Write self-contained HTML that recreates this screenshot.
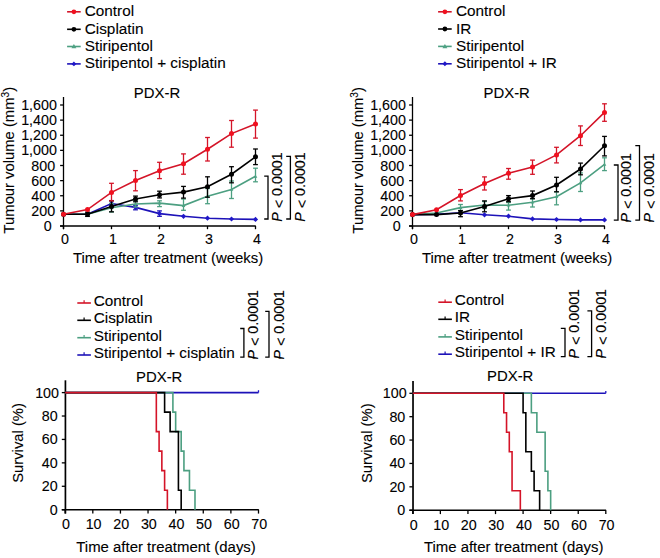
<!DOCTYPE html>
<html><head><meta charset="utf-8"><style>
html,body{margin:0;padding:0;background:#fff;}
body{width:660px;height:558px;overflow:hidden;}
svg{display:block;}
text{font-family:"Liberation Sans",sans-serif;stroke:#000;stroke-width:0.1px;}
</style></head><body>
<svg width="660" height="558" viewBox="0 0 660 558">
<rect width="660" height="558" fill="#ffffff"/>
<g font-family="Liberation Sans, sans-serif" fill="#000">
<line x1="67.10" y1="11.80" x2="80.70" y2="11.80" stroke="#d41428" stroke-width="1.6" />
<circle cx="73.90" cy="11.80" r="2.38" fill="#f0101f"/>
<text transform="translate(84.70,16.30) scale(1,1.001)" font-size="15.35" text-anchor="start" >Control</text>
<line x1="67.10" y1="29.30" x2="80.70" y2="29.30" stroke="#000000" stroke-width="1.6" />
<circle cx="73.90" cy="29.30" r="2.38" fill="#000000"/>
<text transform="translate(84.70,33.80) scale(1,1.001)" font-size="15.35" text-anchor="start" >Cisplatin</text>
<line x1="67.10" y1="46.50" x2="80.70" y2="46.50" stroke="#4c9f81" stroke-width="1.6" />
<path d="M73.90,44.03 L76.37,48.35 L71.43,48.35 Z" fill="#4fa284"/>
<text transform="translate(84.70,51.00) scale(1,1.001)" font-size="15.35" text-anchor="start" >Stiripentol</text>
<line x1="67.10" y1="63.90" x2="80.70" y2="63.90" stroke="#1d12b8" stroke-width="1.6" />
<path d="M73.90,61.43 L76.37,63.90 L73.90,66.37 L71.43,63.90 Z" fill="#2018c8"/>
<text transform="translate(84.70,68.40) scale(1,1.001)" font-size="15.35" text-anchor="start" >Stiripentol + cisplatin</text>
<line x1="438.10" y1="11.80" x2="451.70" y2="11.80" stroke="#d41428" stroke-width="1.6" />
<circle cx="444.90" cy="11.80" r="2.38" fill="#f0101f"/>
<text transform="translate(455.90,16.30) scale(1,1.001)" font-size="15.35" text-anchor="start" >Control</text>
<line x1="438.10" y1="29.00" x2="451.70" y2="29.00" stroke="#000000" stroke-width="1.6" />
<circle cx="444.90" cy="29.00" r="2.38" fill="#000000"/>
<text transform="translate(455.90,33.50) scale(1,1.001)" font-size="15.35" text-anchor="start" >IR</text>
<line x1="438.10" y1="46.40" x2="451.70" y2="46.40" stroke="#4c9f81" stroke-width="1.6" />
<path d="M444.90,43.93 L447.37,48.25 L442.43,48.25 Z" fill="#4fa284"/>
<text transform="translate(455.90,50.90) scale(1,1.001)" font-size="15.35" text-anchor="start" >Stiripentol</text>
<line x1="438.10" y1="63.80" x2="451.70" y2="63.80" stroke="#1d12b8" stroke-width="1.6" />
<path d="M444.90,61.33 L447.37,63.80 L444.90,66.27 L442.43,63.80 Z" fill="#2018c8"/>
<text transform="translate(455.90,68.30) scale(1,1.001)" font-size="15.35" text-anchor="start" >Stiripentol + IR</text>
<line x1="63.50" y1="97.00" x2="63.50" y2="229.20" stroke="#000000" stroke-width="1.3" />
<line x1="60.10" y1="226.00" x2="255.80" y2="226.00" stroke="#000000" stroke-width="1.7" />
<line x1="60.10" y1="226.00" x2="63.50" y2="226.00" stroke="#000000" stroke-width="1.3" />
<text transform="translate(51.70,231.00) scale(1,1.001)" font-size="14.3" text-anchor="end" >0</text>
<line x1="60.10" y1="210.88" x2="63.50" y2="210.88" stroke="#000000" stroke-width="1.3" />
<text transform="translate(55.10,215.88) scale(1,1.001)" font-size="14.3" text-anchor="end" >200</text>
<line x1="60.10" y1="195.75" x2="63.50" y2="195.75" stroke="#000000" stroke-width="1.3" />
<text transform="translate(55.10,200.75) scale(1,1.001)" font-size="14.3" text-anchor="end" >400</text>
<line x1="60.10" y1="180.62" x2="63.50" y2="180.62" stroke="#000000" stroke-width="1.3" />
<text transform="translate(55.10,185.62) scale(1,1.001)" font-size="14.3" text-anchor="end" >600</text>
<line x1="60.10" y1="165.50" x2="63.50" y2="165.50" stroke="#000000" stroke-width="1.3" />
<text transform="translate(55.10,170.50) scale(1,1.001)" font-size="14.3" text-anchor="end" >800</text>
<line x1="60.10" y1="150.38" x2="63.50" y2="150.38" stroke="#000000" stroke-width="1.3" />
<text transform="translate(56.90,155.38) scale(1,1.001)" font-size="14.3" text-anchor="end" >1,000</text>
<line x1="60.10" y1="135.25" x2="63.50" y2="135.25" stroke="#000000" stroke-width="1.3" />
<text transform="translate(56.90,140.25) scale(1,1.001)" font-size="14.3" text-anchor="end" >1,200</text>
<line x1="60.10" y1="120.12" x2="63.50" y2="120.12" stroke="#000000" stroke-width="1.3" />
<text transform="translate(56.90,125.12) scale(1,1.001)" font-size="14.3" text-anchor="end" >1,400</text>
<line x1="60.10" y1="105.00" x2="63.50" y2="105.00" stroke="#000000" stroke-width="1.3" />
<text transform="translate(56.90,110.00) scale(1,1.001)" font-size="14.3" text-anchor="end" >1,600</text>
<line x1="63.50" y1="226.00" x2="63.50" y2="229.20" stroke="#000000" stroke-width="1.3" />
<text transform="translate(64.90,244.30) scale(1,1.001)" font-size="14.3" text-anchor="middle" >0</text>
<line x1="111.50" y1="226.00" x2="111.50" y2="229.20" stroke="#000000" stroke-width="1.3" />
<text transform="translate(112.90,244.30) scale(1,1.001)" font-size="14.3" text-anchor="middle" >1</text>
<line x1="159.50" y1="226.00" x2="159.50" y2="229.20" stroke="#000000" stroke-width="1.3" />
<text transform="translate(160.90,244.30) scale(1,1.001)" font-size="14.3" text-anchor="middle" >2</text>
<line x1="207.50" y1="226.00" x2="207.50" y2="229.20" stroke="#000000" stroke-width="1.3" />
<text transform="translate(208.90,244.30) scale(1,1.001)" font-size="14.3" text-anchor="middle" >3</text>
<line x1="255.50" y1="226.00" x2="255.50" y2="229.20" stroke="#000000" stroke-width="1.3" />
<text transform="translate(256.90,244.30) scale(1,1.001)" font-size="14.3" text-anchor="middle" >4</text>
<text transform="translate(72.90,262.60) scale(1,1.001)" font-size="14.95" text-anchor="start" >Time after treatment (weeks)</text>
<text transform="translate(14.00,233.40) rotate(-90) translate(0,0.0) scale(1,1.001)" font-size="14.8">Tumour volume (mm<tspan font-size="10.2" dy="-4.9">3</tspan><tspan dy="4.9">)</tspan></text>
<text transform="translate(157.00,97.90) scale(1,1.001)" font-size="14.9" text-anchor="middle" >PDX-R</text>
<polyline points="63.50,214.30 87.50,214.30 111.50,203.50 135.50,207.40 159.50,213.60 183.50,216.30 207.50,218.20 231.50,219.00 255.50,219.40" fill="none" stroke="#1d12b8" stroke-width="1.6" stroke-linejoin="miter" />
<line x1="111.50" y1="200.60" x2="111.50" y2="206.50" stroke="#1d12b8" stroke-width="1.3" />
<line x1="109.10" y1="200.60" x2="113.90" y2="200.60" stroke="#1d12b8" stroke-width="1.3" />
<line x1="109.10" y1="206.50" x2="113.90" y2="206.50" stroke="#1d12b8" stroke-width="1.3" />
<line x1="135.50" y1="205.30" x2="135.50" y2="209.80" stroke="#1d12b8" stroke-width="1.3" />
<line x1="133.10" y1="205.30" x2="137.90" y2="205.30" stroke="#1d12b8" stroke-width="1.3" />
<line x1="133.10" y1="209.80" x2="137.90" y2="209.80" stroke="#1d12b8" stroke-width="1.3" />
<line x1="159.50" y1="210.90" x2="159.50" y2="216.30" stroke="#1d12b8" stroke-width="1.3" />
<line x1="157.10" y1="210.90" x2="161.90" y2="210.90" stroke="#1d12b8" stroke-width="1.3" />
<line x1="157.10" y1="216.30" x2="161.90" y2="216.30" stroke="#1d12b8" stroke-width="1.3" />
<path d="M63.50,211.70 L66.10,214.30 L63.50,216.90 L60.90,214.30 Z" fill="#2018c8"/>
<path d="M87.50,211.70 L90.10,214.30 L87.50,216.90 L84.90,214.30 Z" fill="#2018c8"/>
<path d="M111.50,200.90 L114.10,203.50 L111.50,206.10 L108.90,203.50 Z" fill="#2018c8"/>
<path d="M135.50,204.80 L138.10,207.40 L135.50,210.00 L132.90,207.40 Z" fill="#2018c8"/>
<path d="M159.50,211.00 L162.10,213.60 L159.50,216.20 L156.90,213.60 Z" fill="#2018c8"/>
<path d="M183.50,213.70 L186.10,216.30 L183.50,218.90 L180.90,216.30 Z" fill="#2018c8"/>
<path d="M207.50,215.60 L210.10,218.20 L207.50,220.80 L204.90,218.20 Z" fill="#2018c8"/>
<path d="M231.50,216.40 L234.10,219.00 L231.50,221.60 L228.90,219.00 Z" fill="#2018c8"/>
<path d="M255.50,216.80 L258.10,219.40 L255.50,222.00 L252.90,219.40 Z" fill="#2018c8"/>
<polyline points="63.50,214.30 87.50,214.30 111.50,207.70 135.50,204.00 159.50,203.10 183.50,205.60 207.50,196.20 231.50,189.40 255.50,176.30" fill="none" stroke="#4c9f81" stroke-width="1.6" stroke-linejoin="miter" />
<line x1="111.50" y1="203.50" x2="111.50" y2="212.00" stroke="#4c9f81" stroke-width="1.3" />
<line x1="109.10" y1="203.50" x2="113.90" y2="203.50" stroke="#4c9f81" stroke-width="1.3" />
<line x1="109.10" y1="212.00" x2="113.90" y2="212.00" stroke="#4c9f81" stroke-width="1.3" />
<line x1="135.50" y1="201.00" x2="135.50" y2="207.00" stroke="#4c9f81" stroke-width="1.3" />
<line x1="133.10" y1="201.00" x2="137.90" y2="201.00" stroke="#4c9f81" stroke-width="1.3" />
<line x1="133.10" y1="207.00" x2="137.90" y2="207.00" stroke="#4c9f81" stroke-width="1.3" />
<line x1="159.50" y1="200.80" x2="159.50" y2="206.60" stroke="#4c9f81" stroke-width="1.3" />
<line x1="157.10" y1="200.80" x2="161.90" y2="200.80" stroke="#4c9f81" stroke-width="1.3" />
<line x1="157.10" y1="206.60" x2="161.90" y2="206.60" stroke="#4c9f81" stroke-width="1.3" />
<line x1="183.50" y1="199.00" x2="183.50" y2="210.30" stroke="#4c9f81" stroke-width="1.3" />
<line x1="181.10" y1="199.00" x2="185.90" y2="199.00" stroke="#4c9f81" stroke-width="1.3" />
<line x1="181.10" y1="210.30" x2="185.90" y2="210.30" stroke="#4c9f81" stroke-width="1.3" />
<line x1="207.50" y1="188.50" x2="207.50" y2="203.70" stroke="#4c9f81" stroke-width="1.3" />
<line x1="205.10" y1="188.50" x2="209.90" y2="188.50" stroke="#4c9f81" stroke-width="1.3" />
<line x1="205.10" y1="203.70" x2="209.90" y2="203.70" stroke="#4c9f81" stroke-width="1.3" />
<line x1="231.50" y1="181.00" x2="231.50" y2="198.50" stroke="#4c9f81" stroke-width="1.3" />
<line x1="229.10" y1="181.00" x2="233.90" y2="181.00" stroke="#4c9f81" stroke-width="1.3" />
<line x1="229.10" y1="198.50" x2="233.90" y2="198.50" stroke="#4c9f81" stroke-width="1.3" />
<line x1="255.50" y1="168.20" x2="255.50" y2="181.80" stroke="#4c9f81" stroke-width="1.3" />
<line x1="253.10" y1="168.20" x2="257.90" y2="168.20" stroke="#4c9f81" stroke-width="1.3" />
<line x1="253.10" y1="181.80" x2="257.90" y2="181.80" stroke="#4c9f81" stroke-width="1.3" />
<path d="M63.50,212.48 L65.32,215.67 L61.68,215.67 Z" fill="#4fa284"/>
<path d="M87.50,212.48 L89.32,215.67 L85.68,215.67 Z" fill="#4fa284"/>
<path d="M111.50,205.88 L113.32,209.06 L109.68,209.06 Z" fill="#4fa284"/>
<path d="M135.50,202.18 L137.32,205.37 L133.68,205.37 Z" fill="#4fa284"/>
<path d="M159.50,201.28 L161.32,204.47 L157.68,204.47 Z" fill="#4fa284"/>
<path d="M183.50,203.78 L185.32,206.97 L181.68,206.97 Z" fill="#4fa284"/>
<path d="M207.50,194.38 L209.32,197.56 L205.68,197.56 Z" fill="#4fa284"/>
<path d="M231.50,187.58 L233.32,190.77 L229.68,190.77 Z" fill="#4fa284"/>
<path d="M255.50,174.48 L257.32,177.67 L253.68,177.67 Z" fill="#4fa284"/>
<polyline points="63.50,214.30 87.50,214.30 111.50,206.40 135.50,199.00 159.50,194.70 183.50,192.10 207.50,186.80 231.50,174.20 255.50,156.80" fill="none" stroke="#000000" stroke-width="1.6" stroke-linejoin="miter" />
<line x1="87.50" y1="212.20" x2="87.50" y2="216.40" stroke="#000000" stroke-width="1.3" />
<line x1="85.10" y1="212.20" x2="89.90" y2="212.20" stroke="#000000" stroke-width="1.3" />
<line x1="85.10" y1="216.40" x2="89.90" y2="216.40" stroke="#000000" stroke-width="1.3" />
<line x1="111.50" y1="200.80" x2="111.50" y2="211.80" stroke="#000000" stroke-width="1.3" />
<line x1="109.10" y1="200.80" x2="113.90" y2="200.80" stroke="#000000" stroke-width="1.3" />
<line x1="109.10" y1="211.80" x2="113.90" y2="211.80" stroke="#000000" stroke-width="1.3" />
<line x1="135.50" y1="196.10" x2="135.50" y2="201.80" stroke="#000000" stroke-width="1.3" />
<line x1="133.10" y1="196.10" x2="137.90" y2="196.10" stroke="#000000" stroke-width="1.3" />
<line x1="133.10" y1="201.80" x2="137.90" y2="201.80" stroke="#000000" stroke-width="1.3" />
<line x1="159.50" y1="191.20" x2="159.50" y2="197.90" stroke="#000000" stroke-width="1.3" />
<line x1="157.10" y1="191.20" x2="161.90" y2="191.20" stroke="#000000" stroke-width="1.3" />
<line x1="157.10" y1="197.90" x2="161.90" y2="197.90" stroke="#000000" stroke-width="1.3" />
<line x1="183.50" y1="186.40" x2="183.50" y2="198.10" stroke="#000000" stroke-width="1.3" />
<line x1="181.10" y1="186.40" x2="185.90" y2="186.40" stroke="#000000" stroke-width="1.3" />
<line x1="181.10" y1="198.10" x2="185.90" y2="198.10" stroke="#000000" stroke-width="1.3" />
<line x1="207.50" y1="176.80" x2="207.50" y2="197.20" stroke="#000000" stroke-width="1.3" />
<line x1="205.10" y1="176.80" x2="209.90" y2="176.80" stroke="#000000" stroke-width="1.3" />
<line x1="205.10" y1="197.20" x2="209.90" y2="197.20" stroke="#000000" stroke-width="1.3" />
<line x1="231.50" y1="166.70" x2="231.50" y2="182.80" stroke="#000000" stroke-width="1.3" />
<line x1="229.10" y1="166.70" x2="233.90" y2="166.70" stroke="#000000" stroke-width="1.3" />
<line x1="229.10" y1="182.80" x2="233.90" y2="182.80" stroke="#000000" stroke-width="1.3" />
<line x1="255.50" y1="149.00" x2="255.50" y2="164.60" stroke="#000000" stroke-width="1.3" />
<line x1="253.10" y1="149.00" x2="257.90" y2="149.00" stroke="#000000" stroke-width="1.3" />
<line x1="253.10" y1="164.60" x2="257.90" y2="164.60" stroke="#000000" stroke-width="1.3" />
<circle cx="63.50" cy="214.30" r="2.50" fill="#000000"/>
<circle cx="87.50" cy="214.30" r="2.50" fill="#000000"/>
<circle cx="111.50" cy="206.40" r="2.50" fill="#000000"/>
<circle cx="135.50" cy="199.00" r="2.50" fill="#000000"/>
<circle cx="159.50" cy="194.70" r="2.50" fill="#000000"/>
<circle cx="183.50" cy="192.10" r="2.50" fill="#000000"/>
<circle cx="207.50" cy="186.80" r="2.50" fill="#000000"/>
<circle cx="231.50" cy="174.20" r="2.50" fill="#000000"/>
<circle cx="255.50" cy="156.80" r="2.50" fill="#000000"/>
<polyline points="63.50,214.30 87.50,209.60 111.50,192.40 135.50,180.60 159.50,170.70 183.50,163.70 207.50,149.20 231.50,133.60 255.50,124.00" fill="none" stroke="#d41428" stroke-width="1.6" stroke-linejoin="miter" />
<line x1="111.50" y1="183.30" x2="111.50" y2="200.80" stroke="#d41428" stroke-width="1.3" />
<line x1="109.10" y1="183.30" x2="113.90" y2="183.30" stroke="#d41428" stroke-width="1.3" />
<line x1="109.10" y1="200.80" x2="113.90" y2="200.80" stroke="#d41428" stroke-width="1.3" />
<line x1="135.50" y1="170.60" x2="135.50" y2="190.80" stroke="#d41428" stroke-width="1.3" />
<line x1="133.10" y1="170.60" x2="137.90" y2="170.60" stroke="#d41428" stroke-width="1.3" />
<line x1="133.10" y1="190.80" x2="137.90" y2="190.80" stroke="#d41428" stroke-width="1.3" />
<line x1="159.50" y1="162.30" x2="159.50" y2="178.60" stroke="#d41428" stroke-width="1.3" />
<line x1="157.10" y1="162.30" x2="161.90" y2="162.30" stroke="#d41428" stroke-width="1.3" />
<line x1="157.10" y1="178.60" x2="161.90" y2="178.60" stroke="#d41428" stroke-width="1.3" />
<line x1="183.50" y1="153.90" x2="183.50" y2="174.20" stroke="#d41428" stroke-width="1.3" />
<line x1="181.10" y1="153.90" x2="185.90" y2="153.90" stroke="#d41428" stroke-width="1.3" />
<line x1="181.10" y1="174.20" x2="185.90" y2="174.20" stroke="#d41428" stroke-width="1.3" />
<line x1="207.50" y1="137.50" x2="207.50" y2="161.00" stroke="#d41428" stroke-width="1.3" />
<line x1="205.10" y1="137.50" x2="209.90" y2="137.50" stroke="#d41428" stroke-width="1.3" />
<line x1="205.10" y1="161.00" x2="209.90" y2="161.00" stroke="#d41428" stroke-width="1.3" />
<line x1="231.50" y1="120.50" x2="231.50" y2="147.20" stroke="#d41428" stroke-width="1.3" />
<line x1="229.10" y1="120.50" x2="233.90" y2="120.50" stroke="#d41428" stroke-width="1.3" />
<line x1="229.10" y1="147.20" x2="233.90" y2="147.20" stroke="#d41428" stroke-width="1.3" />
<line x1="255.50" y1="110.10" x2="255.50" y2="138.10" stroke="#d41428" stroke-width="1.3" />
<line x1="253.10" y1="110.10" x2="257.90" y2="110.10" stroke="#d41428" stroke-width="1.3" />
<line x1="253.10" y1="138.10" x2="257.90" y2="138.10" stroke="#d41428" stroke-width="1.3" />
<circle cx="63.50" cy="214.30" r="2.50" fill="#f0101f"/>
<circle cx="87.50" cy="209.60" r="2.50" fill="#f0101f"/>
<circle cx="111.50" cy="192.40" r="2.50" fill="#f0101f"/>
<circle cx="135.50" cy="180.60" r="2.50" fill="#f0101f"/>
<circle cx="159.50" cy="170.70" r="2.50" fill="#f0101f"/>
<circle cx="183.50" cy="163.70" r="2.50" fill="#f0101f"/>
<circle cx="207.50" cy="149.20" r="2.50" fill="#f0101f"/>
<circle cx="231.50" cy="133.60" r="2.50" fill="#f0101f"/>
<circle cx="255.50" cy="124.00" r="2.50" fill="#f0101f"/>
<polyline points="264.20,176.20 268.00,176.20 268.00,219.00 264.20,219.00" fill="none" stroke="#000000" stroke-width="1.3" stroke-linejoin="miter" />
<text transform="translate(282.20,221.80) rotate(-90) translate(0,0.0) scale(1,1.001)" font-size="14.3"><tspan font-style="italic">P</tspan> <tspan dy="1.9">&lt;</tspan><tspan dy="-1.9"> 0.0001</tspan></text>
<polyline points="286.20,156.30 290.40,156.30 290.40,219.00 286.20,219.00" fill="none" stroke="#000000" stroke-width="1.3" stroke-linejoin="miter" />
<text transform="translate(305.20,221.80) rotate(-90) translate(0,0.0) scale(1,1.001)" font-size="14.3"><tspan font-style="italic">P</tspan> <tspan dy="1.9">&lt;</tspan><tspan dy="-1.9"> 0.0001</tspan></text>
<line x1="412.50" y1="97.00" x2="412.50" y2="229.20" stroke="#000000" stroke-width="1.3" />
<line x1="409.10" y1="226.00" x2="604.80" y2="226.00" stroke="#000000" stroke-width="1.7" />
<line x1="409.10" y1="226.00" x2="412.50" y2="226.00" stroke="#000000" stroke-width="1.3" />
<text transform="translate(400.70,231.00) scale(1,1.001)" font-size="14.3" text-anchor="end" >0</text>
<line x1="409.10" y1="210.88" x2="412.50" y2="210.88" stroke="#000000" stroke-width="1.3" />
<text transform="translate(404.10,215.88) scale(1,1.001)" font-size="14.3" text-anchor="end" >200</text>
<line x1="409.10" y1="195.75" x2="412.50" y2="195.75" stroke="#000000" stroke-width="1.3" />
<text transform="translate(404.10,200.75) scale(1,1.001)" font-size="14.3" text-anchor="end" >400</text>
<line x1="409.10" y1="180.62" x2="412.50" y2="180.62" stroke="#000000" stroke-width="1.3" />
<text transform="translate(404.10,185.62) scale(1,1.001)" font-size="14.3" text-anchor="end" >600</text>
<line x1="409.10" y1="165.50" x2="412.50" y2="165.50" stroke="#000000" stroke-width="1.3" />
<text transform="translate(404.10,170.50) scale(1,1.001)" font-size="14.3" text-anchor="end" >800</text>
<line x1="409.10" y1="150.38" x2="412.50" y2="150.38" stroke="#000000" stroke-width="1.3" />
<text transform="translate(405.90,155.38) scale(1,1.001)" font-size="14.3" text-anchor="end" >1,000</text>
<line x1="409.10" y1="135.25" x2="412.50" y2="135.25" stroke="#000000" stroke-width="1.3" />
<text transform="translate(405.90,140.25) scale(1,1.001)" font-size="14.3" text-anchor="end" >1,200</text>
<line x1="409.10" y1="120.12" x2="412.50" y2="120.12" stroke="#000000" stroke-width="1.3" />
<text transform="translate(405.90,125.12) scale(1,1.001)" font-size="14.3" text-anchor="end" >1,400</text>
<line x1="409.10" y1="105.00" x2="412.50" y2="105.00" stroke="#000000" stroke-width="1.3" />
<text transform="translate(405.90,110.00) scale(1,1.001)" font-size="14.3" text-anchor="end" >1,600</text>
<line x1="412.50" y1="226.00" x2="412.50" y2="229.20" stroke="#000000" stroke-width="1.3" />
<text transform="translate(413.90,244.30) scale(1,1.001)" font-size="14.3" text-anchor="middle" >0</text>
<line x1="460.50" y1="226.00" x2="460.50" y2="229.20" stroke="#000000" stroke-width="1.3" />
<text transform="translate(461.90,244.30) scale(1,1.001)" font-size="14.3" text-anchor="middle" >1</text>
<line x1="508.50" y1="226.00" x2="508.50" y2="229.20" stroke="#000000" stroke-width="1.3" />
<text transform="translate(509.90,244.30) scale(1,1.001)" font-size="14.3" text-anchor="middle" >2</text>
<line x1="556.50" y1="226.00" x2="556.50" y2="229.20" stroke="#000000" stroke-width="1.3" />
<text transform="translate(557.90,244.30) scale(1,1.001)" font-size="14.3" text-anchor="middle" >3</text>
<line x1="604.50" y1="226.00" x2="604.50" y2="229.20" stroke="#000000" stroke-width="1.3" />
<text transform="translate(605.90,244.30) scale(1,1.001)" font-size="14.3" text-anchor="middle" >4</text>
<text transform="translate(421.90,262.60) scale(1,1.001)" font-size="14.95" text-anchor="start" >Time after treatment (weeks)</text>
<text transform="translate(363.00,233.50) rotate(-90) translate(0,0.0) scale(1,1.001)" font-size="14.8">Tumour volume (mm<tspan font-size="10.2" dy="-4.9">3</tspan><tspan dy="4.9">)</tspan></text>
<text transform="translate(506.70,97.90) scale(1,1.001)" font-size="14.9" text-anchor="middle" >PDX-R</text>
<polyline points="412.50,214.60 436.50,214.30 460.50,212.70 484.50,214.80 508.50,216.20 532.50,218.90 556.50,219.50 580.50,219.90 604.50,219.90" fill="none" stroke="#1d12b8" stroke-width="1.6" stroke-linejoin="miter" />
<path d="M412.50,212.00 L415.10,214.60 L412.50,217.20 L409.90,214.60 Z" fill="#2018c8"/>
<path d="M436.50,211.70 L439.10,214.30 L436.50,216.90 L433.90,214.30 Z" fill="#2018c8"/>
<path d="M460.50,210.10 L463.10,212.70 L460.50,215.30 L457.90,212.70 Z" fill="#2018c8"/>
<path d="M484.50,212.20 L487.10,214.80 L484.50,217.40 L481.90,214.80 Z" fill="#2018c8"/>
<path d="M508.50,213.60 L511.10,216.20 L508.50,218.80 L505.90,216.20 Z" fill="#2018c8"/>
<path d="M532.50,216.30 L535.10,218.90 L532.50,221.50 L529.90,218.90 Z" fill="#2018c8"/>
<path d="M556.50,216.90 L559.10,219.50 L556.50,222.10 L553.90,219.50 Z" fill="#2018c8"/>
<path d="M580.50,217.30 L583.10,219.90 L580.50,222.50 L577.90,219.90 Z" fill="#2018c8"/>
<path d="M604.50,217.30 L607.10,219.90 L604.50,222.50 L601.90,219.90 Z" fill="#2018c8"/>
<polyline points="412.50,214.60 436.50,213.00 460.50,207.60 484.50,205.00 508.50,205.20 532.50,202.20 556.50,196.70 580.50,182.90 604.50,164.30" fill="none" stroke="#4c9f81" stroke-width="1.6" stroke-linejoin="miter" />
<line x1="460.50" y1="204.50" x2="460.50" y2="210.50" stroke="#4c9f81" stroke-width="1.3" />
<line x1="458.10" y1="204.50" x2="462.90" y2="204.50" stroke="#4c9f81" stroke-width="1.3" />
<line x1="458.10" y1="210.50" x2="462.90" y2="210.50" stroke="#4c9f81" stroke-width="1.3" />
<line x1="484.50" y1="201.50" x2="484.50" y2="208.50" stroke="#4c9f81" stroke-width="1.3" />
<line x1="482.10" y1="201.50" x2="486.90" y2="201.50" stroke="#4c9f81" stroke-width="1.3" />
<line x1="482.10" y1="208.50" x2="486.90" y2="208.50" stroke="#4c9f81" stroke-width="1.3" />
<line x1="508.50" y1="202.50" x2="508.50" y2="210.10" stroke="#4c9f81" stroke-width="1.3" />
<line x1="506.10" y1="202.50" x2="510.90" y2="202.50" stroke="#4c9f81" stroke-width="1.3" />
<line x1="506.10" y1="210.10" x2="510.90" y2="210.10" stroke="#4c9f81" stroke-width="1.3" />
<line x1="532.50" y1="198.70" x2="532.50" y2="207.00" stroke="#4c9f81" stroke-width="1.3" />
<line x1="530.10" y1="198.70" x2="534.90" y2="198.70" stroke="#4c9f81" stroke-width="1.3" />
<line x1="530.10" y1="207.00" x2="534.90" y2="207.00" stroke="#4c9f81" stroke-width="1.3" />
<line x1="556.50" y1="191.80" x2="556.50" y2="204.80" stroke="#4c9f81" stroke-width="1.3" />
<line x1="554.10" y1="191.80" x2="558.90" y2="191.80" stroke="#4c9f81" stroke-width="1.3" />
<line x1="554.10" y1="204.80" x2="558.90" y2="204.80" stroke="#4c9f81" stroke-width="1.3" />
<line x1="580.50" y1="172.90" x2="580.50" y2="191.50" stroke="#4c9f81" stroke-width="1.3" />
<line x1="578.10" y1="172.90" x2="582.90" y2="172.90" stroke="#4c9f81" stroke-width="1.3" />
<line x1="578.10" y1="191.50" x2="582.90" y2="191.50" stroke="#4c9f81" stroke-width="1.3" />
<line x1="604.50" y1="157.80" x2="604.50" y2="170.60" stroke="#4c9f81" stroke-width="1.3" />
<line x1="602.10" y1="157.80" x2="606.90" y2="157.80" stroke="#4c9f81" stroke-width="1.3" />
<line x1="602.10" y1="170.60" x2="606.90" y2="170.60" stroke="#4c9f81" stroke-width="1.3" />
<path d="M412.50,212.78 L414.32,215.97 L410.68,215.97 Z" fill="#4fa284"/>
<path d="M436.50,211.18 L438.32,214.37 L434.68,214.37 Z" fill="#4fa284"/>
<path d="M460.50,205.78 L462.32,208.97 L458.68,208.97 Z" fill="#4fa284"/>
<path d="M484.50,203.18 L486.32,206.37 L482.68,206.37 Z" fill="#4fa284"/>
<path d="M508.50,203.38 L510.32,206.56 L506.68,206.56 Z" fill="#4fa284"/>
<path d="M532.50,200.38 L534.32,203.56 L530.68,203.56 Z" fill="#4fa284"/>
<path d="M556.50,194.88 L558.32,198.06 L554.68,198.06 Z" fill="#4fa284"/>
<path d="M580.50,181.08 L582.32,184.27 L578.68,184.27 Z" fill="#4fa284"/>
<path d="M604.50,162.48 L606.32,165.67 L602.68,165.67 Z" fill="#4fa284"/>
<polyline points="412.50,214.60 436.50,214.60 460.50,213.00 484.50,206.40 508.50,198.70 532.50,195.60 556.50,185.00 580.50,169.00 604.50,145.70" fill="none" stroke="#000000" stroke-width="1.6" stroke-linejoin="miter" />
<line x1="460.50" y1="210.60" x2="460.50" y2="216.70" stroke="#000000" stroke-width="1.3" />
<line x1="458.10" y1="210.60" x2="462.90" y2="210.60" stroke="#000000" stroke-width="1.3" />
<line x1="458.10" y1="216.70" x2="462.90" y2="216.70" stroke="#000000" stroke-width="1.3" />
<line x1="484.50" y1="200.90" x2="484.50" y2="211.80" stroke="#000000" stroke-width="1.3" />
<line x1="482.10" y1="200.90" x2="486.90" y2="200.90" stroke="#000000" stroke-width="1.3" />
<line x1="482.10" y1="211.80" x2="486.90" y2="211.80" stroke="#000000" stroke-width="1.3" />
<line x1="508.50" y1="195.60" x2="508.50" y2="201.70" stroke="#000000" stroke-width="1.3" />
<line x1="506.10" y1="195.60" x2="510.90" y2="195.60" stroke="#000000" stroke-width="1.3" />
<line x1="506.10" y1="201.70" x2="510.90" y2="201.70" stroke="#000000" stroke-width="1.3" />
<line x1="532.50" y1="191.00" x2="532.50" y2="198.70" stroke="#000000" stroke-width="1.3" />
<line x1="530.10" y1="191.00" x2="534.90" y2="191.00" stroke="#000000" stroke-width="1.3" />
<line x1="530.10" y1="198.70" x2="534.90" y2="198.70" stroke="#000000" stroke-width="1.3" />
<line x1="556.50" y1="177.30" x2="556.50" y2="191.80" stroke="#000000" stroke-width="1.3" />
<line x1="554.10" y1="177.30" x2="558.90" y2="177.30" stroke="#000000" stroke-width="1.3" />
<line x1="554.10" y1="191.80" x2="558.90" y2="191.80" stroke="#000000" stroke-width="1.3" />
<line x1="580.50" y1="163.10" x2="580.50" y2="174.80" stroke="#000000" stroke-width="1.3" />
<line x1="578.10" y1="163.10" x2="582.90" y2="163.10" stroke="#000000" stroke-width="1.3" />
<line x1="578.10" y1="174.80" x2="582.90" y2="174.80" stroke="#000000" stroke-width="1.3" />
<line x1="604.50" y1="136.40" x2="604.50" y2="155.90" stroke="#000000" stroke-width="1.3" />
<line x1="602.10" y1="136.40" x2="606.90" y2="136.40" stroke="#000000" stroke-width="1.3" />
<line x1="602.10" y1="155.90" x2="606.90" y2="155.90" stroke="#000000" stroke-width="1.3" />
<circle cx="412.50" cy="214.60" r="2.50" fill="#000000"/>
<circle cx="436.50" cy="214.60" r="2.50" fill="#000000"/>
<circle cx="460.50" cy="213.00" r="2.50" fill="#000000"/>
<circle cx="484.50" cy="206.40" r="2.50" fill="#000000"/>
<circle cx="508.50" cy="198.70" r="2.50" fill="#000000"/>
<circle cx="532.50" cy="195.60" r="2.50" fill="#000000"/>
<circle cx="556.50" cy="185.00" r="2.50" fill="#000000"/>
<circle cx="580.50" cy="169.00" r="2.50" fill="#000000"/>
<circle cx="604.50" cy="145.70" r="2.50" fill="#000000"/>
<polyline points="412.50,214.60 436.50,209.80 460.50,195.50 484.50,183.60 508.50,173.20 532.50,167.10 556.50,154.90 580.50,135.70 604.50,112.40" fill="none" stroke="#d41428" stroke-width="1.6" stroke-linejoin="miter" />
<line x1="460.50" y1="189.60" x2="460.50" y2="200.90" stroke="#d41428" stroke-width="1.3" />
<line x1="458.10" y1="189.60" x2="462.90" y2="189.60" stroke="#d41428" stroke-width="1.3" />
<line x1="458.10" y1="200.90" x2="462.90" y2="200.90" stroke="#d41428" stroke-width="1.3" />
<line x1="484.50" y1="176.90" x2="484.50" y2="190.00" stroke="#d41428" stroke-width="1.3" />
<line x1="482.10" y1="176.90" x2="486.90" y2="176.90" stroke="#d41428" stroke-width="1.3" />
<line x1="482.10" y1="190.00" x2="486.90" y2="190.00" stroke="#d41428" stroke-width="1.3" />
<line x1="508.50" y1="168.50" x2="508.50" y2="179.20" stroke="#d41428" stroke-width="1.3" />
<line x1="506.10" y1="168.50" x2="510.90" y2="168.50" stroke="#d41428" stroke-width="1.3" />
<line x1="506.10" y1="179.20" x2="510.90" y2="179.20" stroke="#d41428" stroke-width="1.3" />
<line x1="532.50" y1="160.10" x2="532.50" y2="174.30" stroke="#d41428" stroke-width="1.3" />
<line x1="530.10" y1="160.10" x2="534.90" y2="160.10" stroke="#d41428" stroke-width="1.3" />
<line x1="530.10" y1="174.30" x2="534.90" y2="174.30" stroke="#d41428" stroke-width="1.3" />
<line x1="556.50" y1="147.30" x2="556.50" y2="162.90" stroke="#d41428" stroke-width="1.3" />
<line x1="554.10" y1="147.30" x2="558.90" y2="147.30" stroke="#d41428" stroke-width="1.3" />
<line x1="554.10" y1="162.90" x2="558.90" y2="162.90" stroke="#d41428" stroke-width="1.3" />
<line x1="580.50" y1="125.90" x2="580.50" y2="145.50" stroke="#d41428" stroke-width="1.3" />
<line x1="578.10" y1="125.90" x2="582.90" y2="125.90" stroke="#d41428" stroke-width="1.3" />
<line x1="578.10" y1="145.50" x2="582.90" y2="145.50" stroke="#d41428" stroke-width="1.3" />
<line x1="604.50" y1="103.80" x2="604.50" y2="121.30" stroke="#d41428" stroke-width="1.3" />
<line x1="602.10" y1="103.80" x2="606.90" y2="103.80" stroke="#d41428" stroke-width="1.3" />
<line x1="602.10" y1="121.30" x2="606.90" y2="121.30" stroke="#d41428" stroke-width="1.3" />
<circle cx="412.50" cy="214.60" r="2.50" fill="#f0101f"/>
<circle cx="436.50" cy="209.80" r="2.50" fill="#f0101f"/>
<circle cx="460.50" cy="195.50" r="2.50" fill="#f0101f"/>
<circle cx="484.50" cy="183.60" r="2.50" fill="#f0101f"/>
<circle cx="508.50" cy="173.20" r="2.50" fill="#f0101f"/>
<circle cx="532.50" cy="167.10" r="2.50" fill="#f0101f"/>
<circle cx="556.50" cy="154.90" r="2.50" fill="#f0101f"/>
<circle cx="580.50" cy="135.70" r="2.50" fill="#f0101f"/>
<circle cx="604.50" cy="112.40" r="2.50" fill="#f0101f"/>
<polyline points="613.80,165.00 618.00,165.00 618.00,220.20 613.80,220.20" fill="none" stroke="#000000" stroke-width="1.3" stroke-linejoin="miter" />
<text transform="translate(630.90,222.60) rotate(-90) translate(0,0.0) scale(1,1.001)" font-size="14.3"><tspan font-style="italic">P</tspan> <tspan dy="1.9">&lt;</tspan><tspan dy="-1.9"> 0.0001</tspan></text>
<polyline points="635.30,145.60 639.50,145.60 639.50,220.20 635.30,220.20" fill="none" stroke="#000000" stroke-width="1.3" stroke-linejoin="miter" />
<text transform="translate(654.20,222.60) rotate(-90) translate(0,0.0) scale(1,1.001)" font-size="14.3"><tspan font-style="italic">P</tspan> <tspan dy="1.9">&lt;</tspan><tspan dy="-1.9"> 0.0001</tspan></text>
<line x1="77.30" y1="303.00" x2="90.90" y2="303.00" stroke="#d41428" stroke-width="1.6" />
<line x1="84.10" y1="303.00" x2="84.10" y2="300.20" stroke="#d41428" stroke-width="1.2" />
<text transform="translate(93.70,305.90) scale(1,1.001)" font-size="15.35" text-anchor="start" >Control</text>
<line x1="77.30" y1="320.30" x2="90.90" y2="320.30" stroke="#000000" stroke-width="1.6" />
<line x1="84.10" y1="320.30" x2="84.10" y2="317.50" stroke="#000000" stroke-width="1.2" />
<text transform="translate(93.70,323.20) scale(1,1.001)" font-size="15.35" text-anchor="start" >Cisplatin</text>
<line x1="77.30" y1="337.70" x2="90.90" y2="337.70" stroke="#4c9f81" stroke-width="1.6" />
<line x1="84.10" y1="337.70" x2="84.10" y2="334.90" stroke="#4c9f81" stroke-width="1.2" />
<text transform="translate(93.70,340.60) scale(1,1.001)" font-size="15.35" text-anchor="start" >Stiripentol</text>
<line x1="77.30" y1="355.00" x2="90.90" y2="355.00" stroke="#1d12b8" stroke-width="1.6" />
<line x1="84.10" y1="355.00" x2="84.10" y2="352.20" stroke="#1d12b8" stroke-width="1.2" />
<text transform="translate(93.70,357.90) scale(1,1.001)" font-size="15.35" text-anchor="start" >Stiripentol + cisplatin</text>
<line x1="438.30" y1="302.20" x2="451.90" y2="302.20" stroke="#d41428" stroke-width="1.6" />
<line x1="445.10" y1="302.20" x2="445.10" y2="299.40" stroke="#d41428" stroke-width="1.2" />
<text transform="translate(454.80,305.10) scale(1,1.001)" font-size="15.35" text-anchor="start" >Control</text>
<line x1="438.30" y1="319.30" x2="451.90" y2="319.30" stroke="#000000" stroke-width="1.6" />
<line x1="445.10" y1="319.30" x2="445.10" y2="316.50" stroke="#000000" stroke-width="1.2" />
<text transform="translate(454.80,322.20) scale(1,1.001)" font-size="15.35" text-anchor="start" >IR</text>
<line x1="438.30" y1="336.90" x2="451.90" y2="336.90" stroke="#4c9f81" stroke-width="1.6" />
<line x1="445.10" y1="336.90" x2="445.10" y2="334.10" stroke="#4c9f81" stroke-width="1.2" />
<text transform="translate(454.80,339.80) scale(1,1.001)" font-size="15.35" text-anchor="start" >Stiripentol</text>
<line x1="438.30" y1="354.20" x2="451.90" y2="354.20" stroke="#1d12b8" stroke-width="1.6" />
<line x1="445.10" y1="354.20" x2="445.10" y2="351.40" stroke="#1d12b8" stroke-width="1.2" />
<text transform="translate(454.80,357.10) scale(1,1.001)" font-size="15.35" text-anchor="start" >Stiripentol + IR</text>
<polyline points="240.20,328.50 243.90,328.50 243.90,357.20 240.20,357.20" fill="none" stroke="#000000" stroke-width="1.3" stroke-linejoin="miter" />
<text transform="translate(258.30,359.50) rotate(-90) translate(0,0.0) scale(1,1.001)" font-size="14.3"><tspan font-style="italic">P</tspan> <tspan dy="1.9">&lt;</tspan><tspan dy="-1.9"> 0.0001</tspan></text>
<polyline points="265.20,311.30 269.00,311.30 269.00,357.20 265.20,357.20" fill="none" stroke="#000000" stroke-width="1.3" stroke-linejoin="miter" />
<text transform="translate(284.30,359.50) rotate(-90) translate(0,0.0) scale(1,1.001)" font-size="14.3"><tspan font-style="italic">P</tspan> <tspan dy="1.9">&lt;</tspan><tspan dy="-1.9"> 0.0001</tspan></text>
<polyline points="560.80,328.30 565.00,328.30 565.00,356.70 560.80,356.70" fill="none" stroke="#000000" stroke-width="1.3" stroke-linejoin="miter" />
<text transform="translate(578.90,358.50) rotate(-90) translate(0,0.0) scale(1,1.001)" font-size="14.3"><tspan font-style="italic">P</tspan> <tspan dy="1.9">&lt;</tspan><tspan dy="-1.9"> 0.0001</tspan></text>
<polyline points="587.40,310.90 591.60,310.90 591.60,356.70 587.40,356.70" fill="none" stroke="#000000" stroke-width="1.3" stroke-linejoin="miter" />
<text transform="translate(606.00,358.50) rotate(-90) translate(0,0.0) scale(1,1.001)" font-size="14.3"><tspan font-style="italic">P</tspan> <tspan dy="1.9">&lt;</tspan><tspan dy="-1.9"> 0.0001</tspan></text>
<line x1="65.42" y1="380.30" x2="65.42" y2="513.60" stroke="#000000" stroke-width="1.7" />
<line x1="61.80" y1="509.70" x2="258.80" y2="509.70" stroke="#000000" stroke-width="1.6" />
<line x1="61.80" y1="509.70" x2="65.20" y2="509.70" stroke="#000000" stroke-width="1.3" />
<text transform="translate(57.70,514.70) scale(1,1.001)" font-size="14.3" text-anchor="end" >0</text>
<line x1="61.80" y1="486.28" x2="65.20" y2="486.28" stroke="#000000" stroke-width="1.3" />
<text transform="translate(57.70,491.28) scale(1,1.001)" font-size="14.3" text-anchor="end" >20</text>
<line x1="61.80" y1="462.86" x2="65.20" y2="462.86" stroke="#000000" stroke-width="1.3" />
<text transform="translate(57.70,467.86) scale(1,1.001)" font-size="14.3" text-anchor="end" >40</text>
<line x1="61.80" y1="439.44" x2="65.20" y2="439.44" stroke="#000000" stroke-width="1.3" />
<text transform="translate(57.70,444.44) scale(1,1.001)" font-size="14.3" text-anchor="end" >60</text>
<line x1="61.80" y1="416.02" x2="65.20" y2="416.02" stroke="#000000" stroke-width="1.3" />
<text transform="translate(57.70,421.02) scale(1,1.001)" font-size="14.3" text-anchor="end" >80</text>
<line x1="61.80" y1="392.60" x2="65.20" y2="392.60" stroke="#000000" stroke-width="1.3" />
<text transform="translate(59.00,397.60) scale(1,1.001)" font-size="14.3" text-anchor="end" >100</text>
<line x1="65.20" y1="509.70" x2="65.20" y2="513.60" stroke="#000000" stroke-width="1.3" />
<text transform="translate(66.00,529.20) scale(1,1.001)" font-size="14.3" text-anchor="middle" >0</text>
<line x1="92.81" y1="509.70" x2="92.81" y2="513.60" stroke="#000000" stroke-width="1.3" />
<text transform="translate(93.61,529.20) scale(1,1.001)" font-size="14.3" text-anchor="middle" >10</text>
<line x1="120.43" y1="509.70" x2="120.43" y2="513.60" stroke="#000000" stroke-width="1.3" />
<text transform="translate(121.23,529.20) scale(1,1.001)" font-size="14.3" text-anchor="middle" >20</text>
<line x1="148.04" y1="509.70" x2="148.04" y2="513.60" stroke="#000000" stroke-width="1.3" />
<text transform="translate(148.84,529.20) scale(1,1.001)" font-size="14.3" text-anchor="middle" >30</text>
<line x1="175.66" y1="509.70" x2="175.66" y2="513.60" stroke="#000000" stroke-width="1.3" />
<text transform="translate(176.46,529.20) scale(1,1.001)" font-size="14.3" text-anchor="middle" >40</text>
<line x1="203.27" y1="509.70" x2="203.27" y2="513.60" stroke="#000000" stroke-width="1.3" />
<text transform="translate(204.07,529.20) scale(1,1.001)" font-size="14.3" text-anchor="middle" >50</text>
<line x1="230.89" y1="509.70" x2="230.89" y2="513.60" stroke="#000000" stroke-width="1.3" />
<text transform="translate(231.69,529.20) scale(1,1.001)" font-size="14.3" text-anchor="middle" >60</text>
<line x1="258.50" y1="509.70" x2="258.50" y2="513.60" stroke="#000000" stroke-width="1.3" />
<text transform="translate(259.30,529.20) scale(1,1.001)" font-size="14.3" text-anchor="middle" >70</text>
<text transform="translate(76.30,552.00) scale(1,1.001)" font-size="14.95" text-anchor="start" >Time after treatment (days)</text>
<text transform="translate(23.00,482.80) rotate(-90) translate(0,0.0) scale(1,1.001)" font-size="14.8">Survival (%)</text>
<text transform="translate(159.20,382.00) scale(1,1.001)" font-size="14.9" text-anchor="middle" >PDX-R</text>
<polyline points="65.20,392.60 258.50,392.60" fill="none" stroke="#1d12b8" stroke-width="1.6" stroke-linejoin="miter" />
<line x1="258.50" y1="392.60" x2="258.50" y2="390.20" stroke="#2218c8" stroke-width="1.3" />
<polyline points="65.20,392.60 172.90,392.60 172.90,412.12 175.66,412.12 175.66,431.63 181.18,431.63 181.18,451.15 183.94,451.15 183.94,470.67 189.46,470.67 189.46,490.18 194.99,490.18 194.99,509.70" fill="none" stroke="#4c9f81" stroke-width="1.6" stroke-linejoin="miter" />
<polyline points="65.20,392.60 164.61,392.60 164.61,412.12 170.13,412.12 170.13,431.63 178.42,431.63 178.42,490.18 181.18,490.18 181.18,509.70" fill="none" stroke="#000000" stroke-width="1.6" stroke-linejoin="miter" />
<polyline points="65.20,392.60 156.33,392.60 156.33,431.63 159.09,431.63 159.09,451.15 161.85,451.15 161.85,470.67 164.61,470.67 164.61,490.18 167.37,490.18 167.37,509.70" fill="none" stroke="#d41428" stroke-width="1.6" stroke-linejoin="miter" />
<line x1="413.02" y1="381.00" x2="413.02" y2="514.10" stroke="#000000" stroke-width="1.7" />
<line x1="409.40" y1="510.20" x2="606.10" y2="510.20" stroke="#000000" stroke-width="1.6" />
<line x1="409.40" y1="510.20" x2="412.80" y2="510.20" stroke="#000000" stroke-width="1.3" />
<text transform="translate(405.30,515.20) scale(1,1.001)" font-size="14.3" text-anchor="end" >0</text>
<line x1="409.40" y1="486.82" x2="412.80" y2="486.82" stroke="#000000" stroke-width="1.3" />
<text transform="translate(405.30,491.82) scale(1,1.001)" font-size="14.3" text-anchor="end" >20</text>
<line x1="409.40" y1="463.44" x2="412.80" y2="463.44" stroke="#000000" stroke-width="1.3" />
<text transform="translate(405.30,468.44) scale(1,1.001)" font-size="14.3" text-anchor="end" >40</text>
<line x1="409.40" y1="440.06" x2="412.80" y2="440.06" stroke="#000000" stroke-width="1.3" />
<text transform="translate(405.30,445.06) scale(1,1.001)" font-size="14.3" text-anchor="end" >60</text>
<line x1="409.40" y1="416.68" x2="412.80" y2="416.68" stroke="#000000" stroke-width="1.3" />
<text transform="translate(405.30,421.68) scale(1,1.001)" font-size="14.3" text-anchor="end" >80</text>
<line x1="409.40" y1="393.30" x2="412.80" y2="393.30" stroke="#000000" stroke-width="1.3" />
<text transform="translate(406.60,398.30) scale(1,1.001)" font-size="14.3" text-anchor="end" >100</text>
<line x1="412.80" y1="510.20" x2="412.80" y2="514.10" stroke="#000000" stroke-width="1.3" />
<text transform="translate(413.60,529.70) scale(1,1.001)" font-size="14.3" text-anchor="middle" >0</text>
<line x1="440.37" y1="510.20" x2="440.37" y2="514.10" stroke="#000000" stroke-width="1.3" />
<text transform="translate(441.17,529.70) scale(1,1.001)" font-size="14.3" text-anchor="middle" >10</text>
<line x1="467.94" y1="510.20" x2="467.94" y2="514.10" stroke="#000000" stroke-width="1.3" />
<text transform="translate(468.74,529.70) scale(1,1.001)" font-size="14.3" text-anchor="middle" >20</text>
<line x1="495.51" y1="510.20" x2="495.51" y2="514.10" stroke="#000000" stroke-width="1.3" />
<text transform="translate(496.31,529.70) scale(1,1.001)" font-size="14.3" text-anchor="middle" >30</text>
<line x1="523.09" y1="510.20" x2="523.09" y2="514.10" stroke="#000000" stroke-width="1.3" />
<text transform="translate(523.89,529.70) scale(1,1.001)" font-size="14.3" text-anchor="middle" >40</text>
<line x1="550.66" y1="510.20" x2="550.66" y2="514.10" stroke="#000000" stroke-width="1.3" />
<text transform="translate(551.46,529.70) scale(1,1.001)" font-size="14.3" text-anchor="middle" >50</text>
<line x1="578.23" y1="510.20" x2="578.23" y2="514.10" stroke="#000000" stroke-width="1.3" />
<text transform="translate(579.03,529.70) scale(1,1.001)" font-size="14.3" text-anchor="middle" >60</text>
<line x1="605.80" y1="510.20" x2="605.80" y2="514.10" stroke="#000000" stroke-width="1.3" />
<text transform="translate(606.60,529.70) scale(1,1.001)" font-size="14.3" text-anchor="middle" >70</text>
<text transform="translate(423.90,552.00) scale(1,1.001)" font-size="14.95" text-anchor="start" >Time after treatment (days)</text>
<text transform="translate(372.20,483.10) rotate(-90) translate(0,0.0) scale(1,1.001)" font-size="14.8">Survival (%)</text>
<text transform="translate(510.20,381.00) scale(1,1.001)" font-size="14.9" text-anchor="middle" >PDX-R</text>
<polyline points="412.80,393.30 605.80,393.30" fill="none" stroke="#1d12b8" stroke-width="1.6" stroke-linejoin="miter" />
<line x1="605.80" y1="393.30" x2="605.80" y2="390.90" stroke="#2218c8" stroke-width="1.3" />
<polyline points="412.80,393.30 531.36,393.30 531.36,412.78 536.87,412.78 536.87,432.27 545.14,432.27 545.14,471.23 547.90,471.23 547.90,490.72 550.66,490.72 550.66,510.20" fill="none" stroke="#4c9f81" stroke-width="1.6" stroke-linejoin="miter" />
<polyline points="412.80,393.30 523.09,393.30 523.09,412.78 525.84,412.78 525.84,451.75 531.36,451.75 531.36,471.23 534.11,471.23 534.11,490.72 539.63,490.72 539.63,510.20" fill="none" stroke="#000000" stroke-width="1.6" stroke-linejoin="miter" />
<polyline points="412.80,393.30 503.79,393.30 503.79,412.78 506.54,412.78 506.54,432.27 509.30,432.27 509.30,451.75 512.06,451.75 512.06,490.72 520.33,490.72 520.33,510.20" fill="none" stroke="#d41428" stroke-width="1.6" stroke-linejoin="miter" />
</g></svg>
</body></html>
